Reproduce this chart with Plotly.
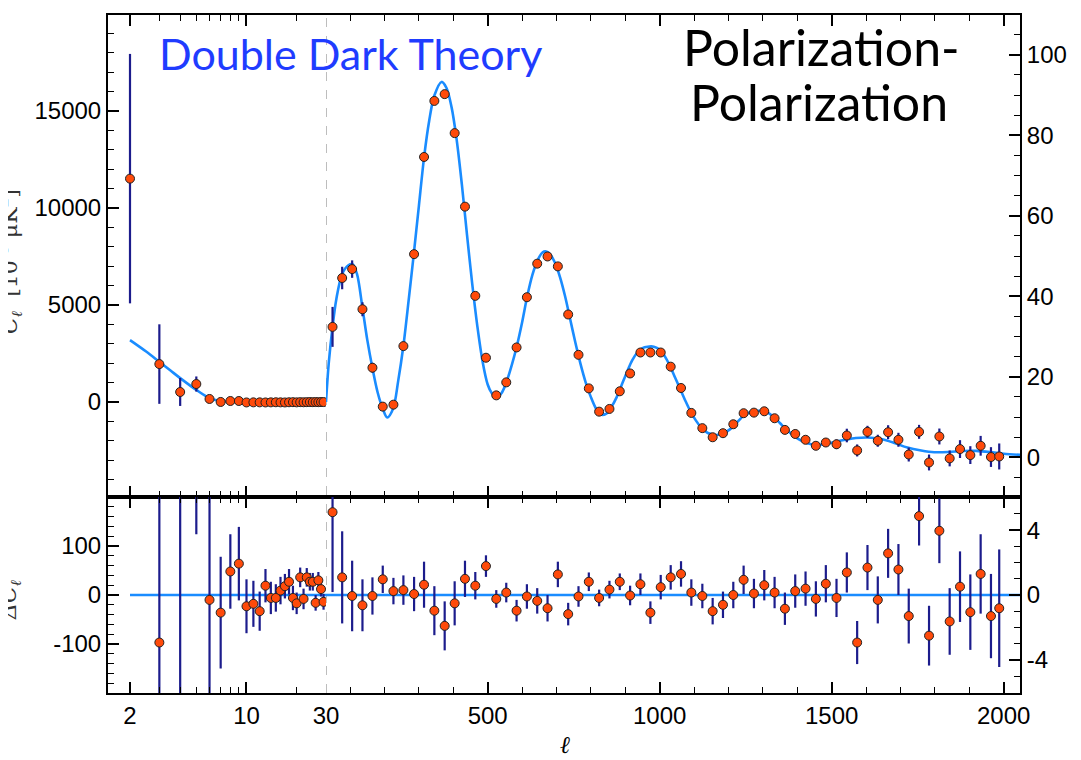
import plotly.graph_objects as go

# ---------------- data ----------------
# low-ell (log-scaled part, 2 <= ell < 30)
ell_low = list(range(2, 30))
dl_low = [11514, 1953, 514, 925, 154, 0, 50, 50, -25, -20, -20, -25, -20, -15,
          -20, -25, -15, -10, -20, -10, -15, -10, -5, -10, -5, -10, -5, -5]
dl_low_err = [6430, 2050, 720, 390, 100, 60, 60, 60, 50, 50, 50, 50, 50, 50,
              50, 50, 50, 50, 50, 50, 50, 50, 50, 50, 50, 50, 50, 50]

res_ell_low = list(range(3, 30))
res_low = [-97, -250, 400, -10, -36, 48, 64, -23, -18, -33, 19, -6, -6, 9, 18, 27,
           -6, -17, 36, -8, 36, 27, 27, -16, 30, 12, -14]
res_low_err = [300, 500, 276, 300, 114, 76, 75, 55, 47, 40, 34, 33, 28, 28, 25, 26,
               25, 22, 20, 21, 19, 18, 18, 16, 17, 15, 16]

# high-ell (linear part, binned)
ell_high = [49, 77, 106, 136, 165, 195, 226, 255, 286, 315, 345, 375, 404, 434, 464,
            495, 525, 554, 584, 614, 644, 674, 704, 734, 764, 794, 824, 854, 884, 914,
            944, 973, 1003, 1032, 1062, 1092, 1124, 1154, 1184, 1214, 1244, 1274, 1304,
            1334, 1364, 1394, 1424, 1454, 1483, 1514, 1544, 1574, 1604, 1634, 1664,
            1694, 1724, 1754, 1783, 1813, 1843, 1873, 1903, 1933, 1963, 1987]
dl_high = [3870, 6390, 6850, 4780, 1765, -240, -140, 2880, 7620, 12630, 15520, 15870,
           13860, 10070, 5470, 2280, 340, 1010, 2810, 5400, 7130, 7500, 6990, 4510,
           2430, 700, -500, -360, 550, 1470, 2550, 2550, 2550, 1820, 720, -565, -1350,
           -1820, -1610, -1150, -580, -550, -480, -840, -1440, -1650, -1950, -2260,
           -2090, -2180, -1730, -2500, -1540, -2000, -1560, -1950, -2710, -1540, -3120,
           -1780, -2910, -2430, -2740, -2260, -2840, -2810]
dl_high_err = [1030, 580, 450, 360, 250] + [150] * 41 + \
              [200, 200, 220, 250, 350, 310, 310, 310, 360, 360, 360, 360, 410, 410,
               410, 460, 460, 510, 510, 670]
res_high = [169, 36, -2, -21, -2, 32, 8, 10, 2, 21, -32, -63, -17, 33, 19, 59, -8, 5,
            -32, -3, -12, -27, 42, -39, -3, 27, -6, 11, 27, -1, 22, -36, 16, 36, 43, 5,
            -2, -33, -20, 0, 31, 3, 20, 5, -28, 8, 13, -8, 23, -6, 46, -97, 56, -10, 85,
            52, -43, 161, -83, 131, -54, 17, -35, 43, -43, -27]
res_high_err = [163, 94, 72, 53, 38, 28, 27, 30, 35, 47, 50, 50, 45, 37, 28, 22, 18, 20,
                22, 25, 26, 27, 26, 23, 21, 19, 17, 18, 17, 20, 22, 23, 25, 25, 26, 27,
                25, 27, 27, 27, 29, 30, 31, 32, 33, 34, 35, 36, 38, 39, 41, 44, 46, 48,
                50, 52, 56, 60, 61, 66, 68, 72, 77, 81, 86, 120]

# best-fit model curve
model_ell_low = [2, 2.5, 3, 3.5, 4, 5, 6, 7, 8, 10, 15, 20, 30]
model_low = [3190, 2600, 2070, 1620, 1230, 620, 200, 50, 10, 0, 0, 0, 0]
model_ell_high = [30, 38, 49, 60, 77, 95, 107, 120, 136, 150, 165, 180, 195, 208, 225,
                  240, 255, 270, 285, 300, 315, 330, 345, 366, 380, 395, 410, 425, 440,
                  455, 470, 485, 500, 512, 525, 540, 555, 570, 585, 600, 615, 630, 645,
                  660, 670, 680, 695, 710, 725, 740, 755, 770, 785, 800, 815, 828, 845,
                  860, 875, 890, 905, 920, 935, 950, 965, 983, 1000, 1015, 1030, 1045,
                  1060, 1075, 1090, 1105, 1120, 1140, 1163, 1185, 1205, 1225, 1245,
                  1265, 1289, 1310, 1330, 1350, 1370, 1390, 1410, 1430, 1449, 1480,
                  1510, 1540, 1570, 1604, 1640, 1680, 1720, 1760, 1798, 1840, 1880,
                  1920, 1960, 2000, 2050]
model_high = [0, 2000, 3870, 5300, 6600, 7050, 7100, 6600, 4850, 3200, 1750, 500, -350,
              -800, -350, 1100, 2900, 5200, 7600, 10100, 12600, 14500, 15800, 16500,
              16200, 15200, 13500, 11200, 8600, 6100, 3900, 2100, 900, 450, 250, 450,
              1050, 1900, 2900, 4100, 5450, 6550, 7300, 7720, 7760, 7650, 7200, 6450,
              5450, 4250, 3050, 1950, 1000, 250, -350, -650, -600, -250, 250, 900, 1550,
              2150, 2550, 2780, 2850, 2850, 2700, 2350, 1850, 1250, 650, 50, -500, -950,
              -1300, -1600, -1700, -1620, -1400, -1050, -700, -520, -450, -520, -750,
              -1100, -1450, -1750, -1980, -2130, -2210, -2180, -2060, -1950, -1860,
              -1830, -1900, -2100, -2350, -2500, -2590, -2580, -2530, -2520, -2580,
              -2670, -2730]

zero_ell_low = [2, 30]
zero_ell_high = [30, 2050]
zero_val_low = [0, 0]
zero_val_high = [0, 0]

# tick labels
top_left_ticks = [0, 5000, 10000, 15000]
top_left_text = ["0", "5000", "10000", "15000"]
top_right_ticks = [0, 20, 40, 60, 80, 100]
top_right_text = ["0", "20", "40", "60", "80", "100"]
bot_left_ticks = [-100, 0, 100]
bot_left_text = ["-100", "0", "100"]
bot_right_ticks = [-4, 0, 4]
bot_right_text = ["-4", "0", "4"]
x_log_ticks = [2, 10]
x_log_text = ["2", "10"]
x_log_minor = [3, 4, 5, 6, 7, 8, 9, 20]
x_lin_ticks = [30, 500, 1000, 1500, 2000]
x_lin_text = ["30", "500", "1000", "1500", "2000"]
x_lin_minor = [v for v in range(100, 2001, 100) if v % 500 != 0]

# ---------------- styling ----------------
PT_FILL = "#ff4a0a"
ERR_COL = "#1c1c8c"
LINE_COL = "#1a8cff"
FONT = "Liberation Sans, Arial, sans-serif"

# the page body adds an 8px offset; compensate so the plot lands on the reference pixels
OFF = 8
W, H = 1081 - OFF, 760 - OFF
ML, MT = 108 - OFF, 15 - OFF
PW, PH = 912, 678
MR = W - ML - PW
MB = H - MT - PH


def px_x(p):  # page pixel -> paper x
    return (p - 108) / PW


def px_y(p):  # page pixel -> paper y
    return (693 - p) / PH


fig = go.Figure()


def pts(x, y, err, xa, ya):
    return go.Scatter(
        x=x, y=y, xaxis=xa, yaxis=ya, mode="markers",
        marker=dict(size=9, color=PT_FILL, line=dict(color="#222222", width=1)),
        error_y=dict(type="data", array=err, color=ERR_COL, thickness=2.2, width=0),
        showlegend=False, hoverinfo="x+y")


def curve(x, y, xa, ya, spline=True, color=LINE_COL):
    return go.Scatter(
        x=x, y=y, xaxis=xa, yaxis=ya, mode="lines",
        line=dict(color=color, width=2.6, shape="spline" if spline else "linear",
                  smoothing=0.9),
        showlegend=False, hoverinfo="skip")


# top panel
fig.add_trace(curve(model_ell_low, model_low, "x", "y"))
fig.add_trace(curve(model_ell_high, model_high, "x2", "y"))
fig.add_trace(pts(ell_low, dl_low, dl_low_err, "x", "y"))
fig.add_trace(pts(ell_high, dl_high, dl_high_err, "x2", "y"))
# bottom panel
fig.add_trace(curve(zero_ell_low, zero_val_low, "x3", "y4", spline=False))
fig.add_trace(curve(zero_ell_high, zero_val_high, "x4", "y4", spline=False))
fig.add_trace(pts(res_ell_low, res_low, res_low_err, "x3", "y4"))
fig.add_trace(pts(ell_high, res_high, res_high_err, "x4", "y4"))
# transparent copies on the right-hand axes so that those axes get drawn
fig.add_trace(curve(zero_ell_high, zero_val_high, "x2", "y3", spline=False,
                    color="rgba(0,0,0,0)"))
fig.add_trace(curve(zero_ell_high, zero_val_high, "x4", "y5", spline=False,
                    color="rgba(0,0,0,0)"))

split = px_x(326)
top_dom = [px_y(497), 1.0]
bot_dom = [0.0, px_y(497)]
log_range = [0.169, 1.47712]
lin_range = [30, 2047.4]

tickfont = dict(family=FONT, size=24, color="black")
common_x = dict(showgrid=False, zeroline=False, showline=True, linecolor="black",
                linewidth=2, mirror="ticks", ticks="inside", ticklen=11, tickwidth=1.6,
                tickcolor="black", tickfont=tickfont, automargin=False)
common_y = dict(showgrid=False, zeroline=False, showline=True, linecolor="black",
                linewidth=2, ticks="inside", ticklen=11, tickwidth=1.6,
                tickcolor="black", tickfont=tickfont, automargin=False)
minor_style = dict(ticks="inside", ticklen=6, tickwidth=1.4, tickcolor="black",
                   showgrid=False)

fig.update_layout(
    width=W, height=H,
    margin=dict(l=ML, r=MR, t=MT, b=MB, pad=0),
    paper_bgcolor="white", plot_bgcolor="white",
    xaxis=dict(common_x, type="log", domain=[0, split], range=log_range, anchor="y",
               tickmode="array", tickvals=x_log_ticks, showticklabels=False,
               minor=dict(minor_style, tickmode="array", tickvals=x_log_minor)),
    xaxis2=dict(common_x, domain=[split, 1], range=lin_range, anchor="y",
                tickmode="array", tickvals=x_lin_ticks, showticklabels=False,
                minor=dict(minor_style, tickmode="array", tickvals=x_lin_minor)),
    xaxis3=dict(common_x, type="log", domain=[0, split], range=log_range, anchor="y4",
                tickmode="array", tickvals=x_log_ticks, ticktext=x_log_text,
                minor=dict(minor_style, tickmode="array", tickvals=x_log_minor)),
    xaxis4=dict(common_x, domain=[split, 1], range=lin_range, anchor="y4",
                tickmode="array", tickvals=x_lin_ticks, ticktext=x_lin_text,
                minor=dict(minor_style, tickmode="array", tickvals=x_lin_minor)),
    yaxis=dict(common_y, domain=top_dom, range=[-4900, 19950], anchor="x",
               tickmode="array", tickvals=top_left_ticks, ticktext=top_left_text,
               minor=dict(minor_style, dtick=1000, tick0=0)),
    yaxis3=dict(common_y, domain=top_dom, range=[-9.87, 109.9], anchor="x2",
                overlaying="y", side="right", tickmode="array", tickvals=top_right_ticks,
                ticktext=top_right_text, minor=dict(minor_style, dtick=5, tick0=0)),
    yaxis4=dict(common_y, domain=bot_dom, range=[-200, 200], anchor="x3",
                tickmode="array", tickvals=bot_left_ticks, ticktext=bot_left_text,
                minor=dict(minor_style, dtick=20, tick0=0)),
    yaxis5=dict(common_y, domain=bot_dom, range=[-6.04, 6.04], anchor="x4",
                overlaying="y4", side="right", tickmode="array", tickvals=bot_right_ticks,
                ticktext=bot_right_text, minor=dict(minor_style, dtick=1, tick0=0)),
)

# dashed divider at ell = 30
fig.add_shape(type="line", xref="x2", yref="paper", x0=30, x1=30, y0=0, y1=1,
              line=dict(color="#9a9a9a", width=1.3, dash="dash"), layer="below")

# texts
fig.add_annotation(text="Double Dark Theory", xref="paper", yref="paper",
                   x=px_x(157), y=px_y(54), xanchor="left",
                   yanchor="middle", showarrow=False,
                   font=dict(family="Lato", size=43, color="#1f3cff"))
fig.add_annotation(text="Polarization-", xref="paper", yref="paper",
                   x=px_x(821), y=px_y(47), xanchor="center",
                   yanchor="middle", showarrow=False,
                   font=dict(family="Lato", size=50, color="black"))
fig.add_annotation(text="Polarization", xref="paper", yref="paper",
                   x=px_x(819), y=px_y(102), xanchor="center",
                   yanchor="middle", showarrow=False,
                   font=dict(family="Lato", size=50, color="black"))
fig.add_annotation(text="<i>ℓ</i>", xref="paper", yref="paper",
                   x=px_x(565), y=px_y(745), xanchor="center",
                   yanchor="middle", showarrow=False,
                   font=dict(family="DejaVu Serif", size=24, color="black"))
fig.add_annotation(text="<i>C<sub>ℓ</sub></i>  [10<sup>-5</sup> μK<sup>2</sup>]",
                   xref="paper", yref="paper", textangle=-90,
                   x=px_x(10), y=px_y(262), xanchor="center",
                   yanchor="middle", showarrow=False,
                   font=dict(family="DejaVu Serif", size=22, color="#333333"))
fig.add_annotation(text="<i>ΔC<sub>ℓ</sub></i>",
                   xref="paper", yref="paper", textangle=-90,
                   x=px_x(10), y=px_y(600), xanchor="center",
                   yanchor="middle", showarrow=False,
                   font=dict(family="DejaVu Serif", size=22, color="#333333"))

fig.write_html("out.html")
